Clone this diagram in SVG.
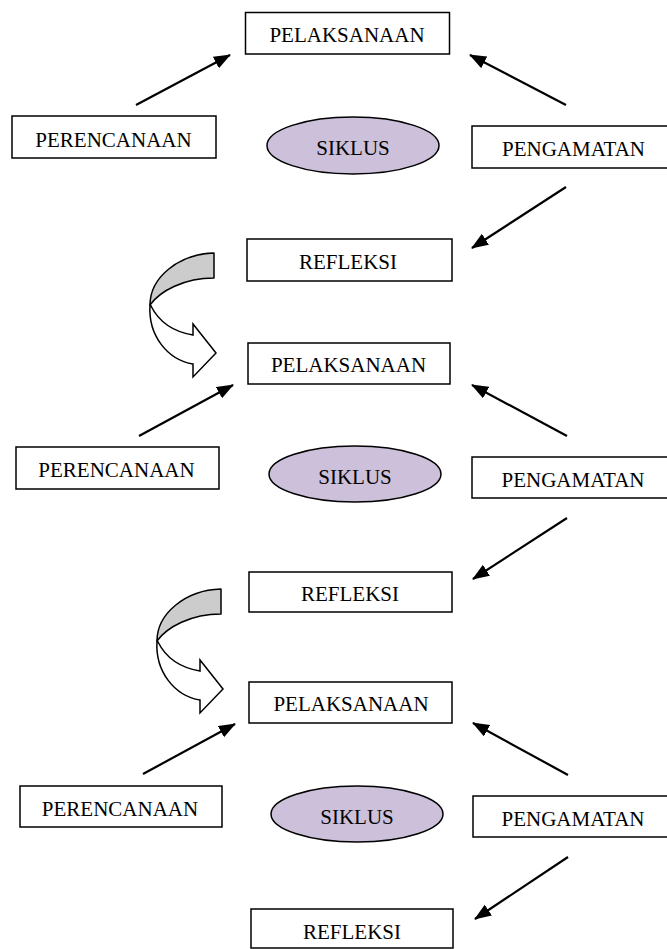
<svg xmlns="http://www.w3.org/2000/svg" width="667" height="949" viewBox="0 0 667 949">
<style>
.box{fill:#fff;stroke:#000;stroke-width:1.5}
.cyc{fill:#ccc0da;stroke:#000;stroke-width:1.5}
.t{font-family:"Liberation Serif","Times New Roman",serif;font-size:21px;fill:#000;text-anchor:middle}
.ln{stroke:#000;stroke-width:2.2;fill:none;marker-end:url(#ah)}
.back{fill:#cccccc;stroke:#000;stroke-width:1.5;stroke-linejoin:round}
.front{fill:#fff;stroke:#000;stroke-width:1.5;stroke-linejoin:miter}
</style>
<defs>
<marker id="ah" markerUnits="userSpaceOnUse" markerWidth="18" markerHeight="14" refX="16" refY="6.5" orient="auto">
<path d="M0,0 L17,6.5 L0,13 Z" fill="#000"/>
</marker>
<g id="curve">
<path class="back" d="M214,253 C178,254 150,278 150,305 C160,291 184,278 214,278 Z"/>
<path class="front" d="M150,305 C148,336 168,360 193,364 L193,377 L216,353 L193,324 L193,335 C175,332 160,324 151,306 Z"/>
</g>
</defs>
<rect width="667" height="949" fill="#fff"/>

<!-- Cycle 1 -->
<g id="pelaksanaan1"><rect class="box" x="245.5" y="12.5" width="204" height="41.5"/><text class="t" x="347" y="41.5">PELAKSANAAN</text></g>
<g id="perencanaan1"><rect class="box" x="12" y="116" width="204" height="42"/><text class="t" x="113.5" y="146.5">PERENCANAAN</text></g>
<g id="siklus1"><ellipse class="cyc" cx="353" cy="145.5" rx="86" ry="28.5"/><text class="t" x="353" y="155">SIKLUS</text></g>
<g id="pengamatan1"><rect class="box" x="472" y="126" width="200" height="42"/><text class="t" x="573.5" y="156">PENGAMATAN</text></g>
<g id="refleksi1"><rect class="box" x="247" y="239" width="205" height="42"/><text class="t" x="348" y="269">REFLEKSI</text></g>

<!-- Cycle 2 -->
<g id="pelaksanaan2"><rect class="box" x="248" y="343" width="202" height="41"/><text class="t" x="348.5" y="371.5">PELAKSANAAN</text></g>
<g id="perencanaan2"><rect class="box" x="16" y="447" width="203" height="42"/><text class="t" x="116.5" y="476.5">PERENCANAAN</text></g>
<g id="siklus2"><ellipse class="cyc" cx="355" cy="474" rx="86" ry="28"/><text class="t" x="355" y="483.5">SIKLUS</text></g>
<g id="pengamatan2"><rect class="box" x="472" y="457" width="200" height="41"/><text class="t" x="573" y="486.5">PENGAMATAN</text></g>
<g id="refleksi2"><rect class="box" x="249" y="572" width="203" height="40"/><text class="t" x="350" y="600.5">REFLEKSI</text></g>

<!-- Cycle 3 -->
<g id="pelaksanaan3"><rect class="box" x="249" y="682" width="203" height="41"/><text class="t" x="351" y="711">PELAKSANAAN</text></g>
<g id="perencanaan3"><rect class="box" x="20" y="786" width="202" height="41"/><text class="t" x="120" y="815.5">PERENCANAAN</text></g>
<g id="siklus3"><ellipse class="cyc" cx="357" cy="814" rx="86" ry="28"/><text class="t" x="357" y="824">SIKLUS</text></g>
<g id="pengamatan3"><rect class="box" x="473" y="796" width="200" height="41"/><text class="t" x="573" y="826">PENGAMATAN</text></g>
<g id="refleksi3"><rect class="box" x="251" y="909" width="202" height="39"/><text class="t" x="352" y="939">REFLEKSI</text></g>

<!-- Curved transition arrows -->
<g id="transition1"><use href="#curve"/></g>
<g id="transition2"><use href="#curve" transform="translate(7,336)"/></g>

<!-- Connectors -->
<g id="connectors">
<line class="ln" x1="136" y1="105" x2="230" y2="55"/>
<line class="ln" x1="566" y1="105" x2="470" y2="55"/>
<line class="ln" x1="566" y1="187" x2="472" y2="248"/>
<line class="ln" x1="139" y1="436" x2="233" y2="385"/>
<line class="ln" x1="567" y1="436" x2="472" y2="385"/>
<line class="ln" x1="567" y1="518" x2="473" y2="579"/>
<line class="ln" x1="143" y1="774" x2="235" y2="724"/>
<line class="ln" x1="568" y1="775" x2="473" y2="723"/>
<line class="ln" x1="568" y1="857" x2="475" y2="919"/>
</g>
</svg>
